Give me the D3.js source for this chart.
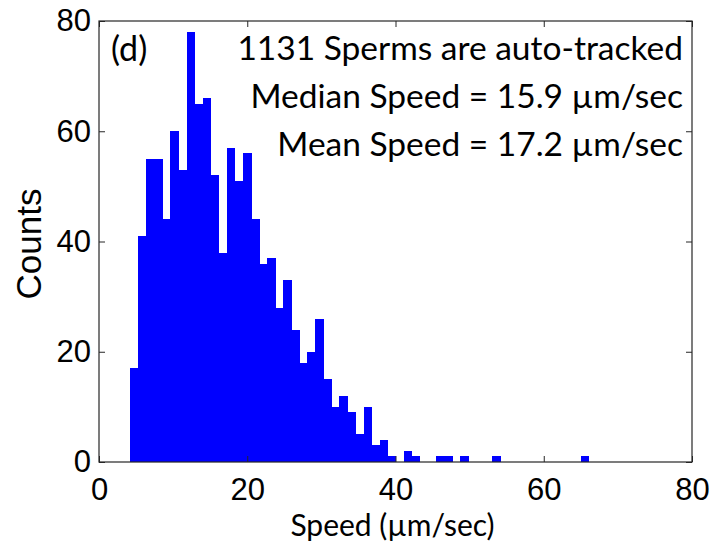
<!DOCTYPE html>
<html>
<head>
  <meta charset="utf-8">
  <style>
    body { margin: 0; background: #fff; }
    .tick text { font-family: "Liberation Sans", Arial, sans-serif; }
  </style>
  <script src="https://cdn.jsdelivr.net/npm/d3@7"></script>
</head>
<body>
<div id="chart"></div>
<script>
  // histogram bins: first edge, bin width (µm/sec) and counts per bin
  var binStart = 4.22;
  var binWidth = 1.085;
  var counts = [17, 41, 55, 55, 44, 60, 53, 78, 65, 66,
                52, 38, 57, 51, 56, 44, 36, 37, 28, 33,
                24, 18, 20, 26, 15, 10, 12, 9, 5, 10,
                3, 4, 1, 0, 2, 1, 0, 0, 1, 1,
                0, 1, 0, 0, 0, 1, 0, 0, 0, 0,
                0, 0, 0, 0, 0, 0, 1];
  var xTicks = [0, 20, 40, 60, 80];
  var yTicks = [0, 20, 40, 60, 80];
  var notes = ["1131 Sperms are auto-tracked",
               "Median Speed = 15.9 \u00b5m/sec",
               "Mean Speed = 17.2 \u00b5m/sec"];

  var W = 726, H = 548;
  var m = {left: 99, right: 34, top: 21, bottom: 86};
  var iw = W - m.left - m.right, ih = H - m.top - m.bottom;

  var svg = d3.select("#chart").append("svg")
    .attr("width", W).attr("height", H);
  var g = svg.append("g").attr("transform", "translate(" + m.left + "," + m.top + ")");

  var x = d3.scaleLinear().domain([0, 80]).range([0, iw]);
  var y = d3.scaleLinear().domain([0, 80]).range([ih, 0]);

  var bins = counts.map(function (c, i) {
    return {x0: binStart + i * binWidth, x1: binStart + (i + 1) * binWidth, n: c};
  });

  g.selectAll("rect.bar")
    .data(bins.filter(function (d) { return d.n > 0; }))
    .enter().append("rect")
      .attr("class", "bar")
      .attr("x", function (d) { return x(d.x0); })
      .attr("width", function (d) { return x(d.x1) - x(d.x0) + 0.6; })
      .attr("y", function (d) { return y(d.n); })
      .attr("height", function (d) { return ih - y(d.n); })
      .attr("fill", "#0000ff")
      .attr("shape-rendering", "crispEdges");

  // axes, ticks pointing inward like matlab
  var axCol = "#262626";
  function styleAxis(sel, showText) {
    sel.select(".domain").remove();
    sel.selectAll(".tick line").attr("stroke", axCol);
    sel.selectAll(".tick text")
      .attr("fill", "#000")
      .style("font-size", "31px")
      .style("display", showText ? null : "none");
  }

  g.append("g").attr("transform", "translate(0," + ih + ")")
    .call(d3.axisBottom(x).tickValues(xTicks).tickSize(-6).tickPadding(14))
    .call(styleAxis, true)
    .selectAll(".tick text").attr("dy", "0.78em");
  g.append("g")
    .call(d3.axisTop(x).tickValues(xTicks).tickSize(-6))
    .call(styleAxis, false);
  g.append("g")
    .call(d3.axisLeft(y).tickValues(yTicks).tickSize(-6).tickPadding(8))
    .call(styleAxis, true);
  g.append("g").attr("transform", "translate(" + iw + ",0)")
    .call(d3.axisRight(y).tickValues(yTicks).tickSize(-6))
    .call(styleAxis, false);

  g.append("rect")
    .attr("width", iw).attr("height", ih)
    .attr("fill", "none").attr("stroke", axCol).attr("stroke-width", 1.2);

  // axis titles
  svg.append("text")
    .attr("x", m.left + iw / 2 - 3).attr("y", 536)
    .attr("text-anchor", "middle")
    .style("font-family", "Lato, 'Open Sans', sans-serif")
    .style("font-size", "30px")
    .text("Speed (\u00b5m/sec)");

  svg.append("text")
    .attr("transform", "translate(41,244) rotate(-90)")
    .attr("text-anchor", "middle")
    .style("font-family", "'Liberation Sans', Arial, sans-serif")
    .style("font-size", "35px")
    .text("Counts");

  // panel label and notes
  g.append("text")
    .attr("x", 12).attr("y", 40)
    .style("font-family", "Lato, 'Open Sans', sans-serif")
    .style("font-size", "34px")
    .text("(d)");

  g.selectAll("text.note")
    .data(notes)
    .enter().append("text")
      .attr("class", "note")
      .attr("x", iw - 9)
      .attr("y", function (d, i) { return 39 + i * 48; })
      .attr("text-anchor", "end")
      .style("font-family", "Lato, 'Open Sans', sans-serif")
      .style("font-size", "33.5px")
      .text(function (d) { return d; });
</script>
</body>
</html>
